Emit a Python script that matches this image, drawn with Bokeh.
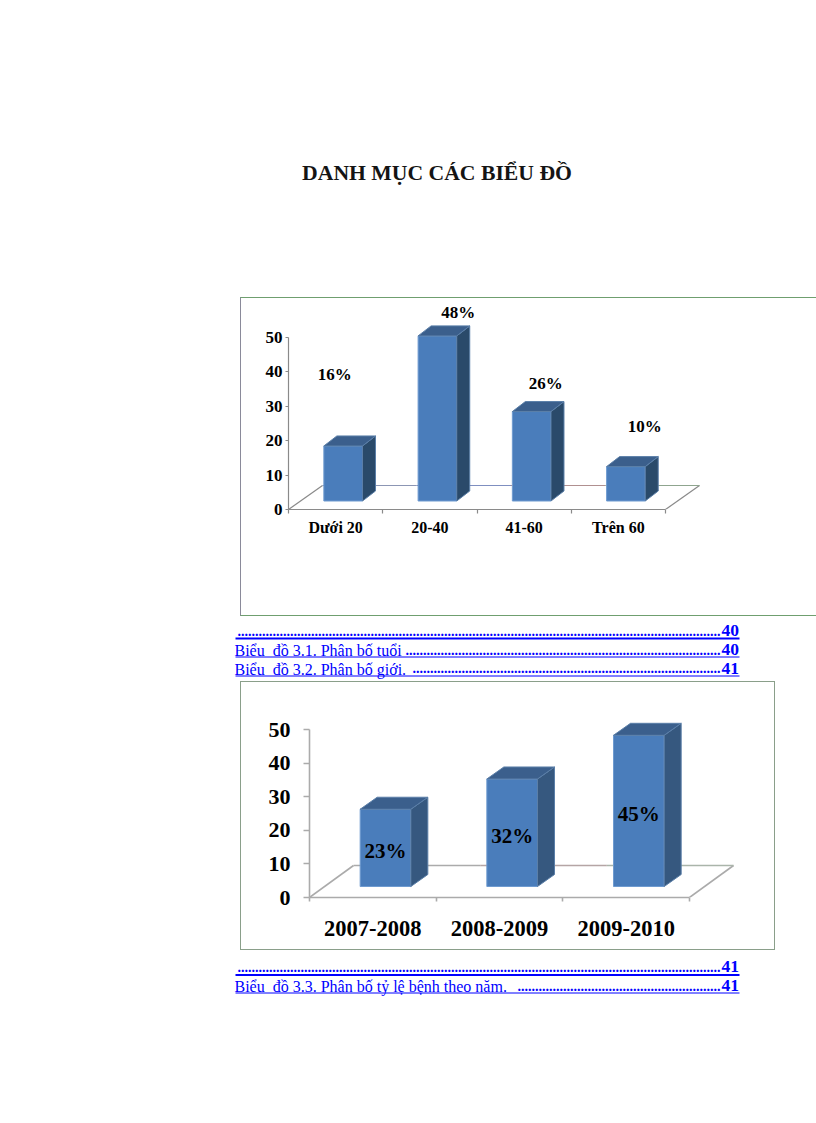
from bokeh.embed import file_html
from bokeh.resources import INLINE
from bokeh.plotting import figure
from bokeh.layouts import column, row
from bokeh.models import Range1d, FixedTicker, Spacer
from bokeh.core.properties import value

SERIF = "Liberation Serif"

title_text = "DANH MỤC CÁC BIỂU ĐỒ"

age_categories = ["Dưới 20", "20-40", "41-60", "Trên 60"]
age_values = [16, 48, 26, 10]
age_labels = ["16%", "48%", "26%", "10%"]

year_categories = ["2007-2008", "2008-2009", "2009-2010"]
year_values = [23, 32, 45]
year_labels = ["23%", "32%", "45%"]

y_ticks = [0, 10, 20, 30, 40, 50]

toc_first = [("", "40"), ("Biểu \u00a0đồ 3.1. Phân bố tuổi ", "40"), ("Biểu \u00a0đồ 3.2. Phân bố giới. ", "41")]
toc_second = [("", "41"), ("Biểu \u00a0đồ 3.3. Phân bố tỷ lệ bệnh theo năm. ", "41")]
leader_counts_first = [138, 90, 88]
leader_counts_second = [138, 58]

FRONT, TOP = "#4a7dbb", "#3b5f8c"


def chart(cats, vals, width, height, left, bottom, cat_px, unit_px, floor_dx, floor_dy,
          bar_shift, bar_w, depth_x, depth_y, base_px, tick_font, cat_font, standoff,
          tick_out, y_standoff, side, axis_color, axis_w, back_colors, border):
    n = len(cats)
    plot_w, plot_h = width - left, height - bottom
    p = figure(width=width, height=height, output_backend="svg", toolbar_location=None,
               x_range=Range1d(-0.5, -0.5 + plot_w / cat_px), y_range=Range1d(0, plot_h / unit_px),
               min_border_left=left, min_border_bottom=bottom, min_border_top=0, min_border_right=0)
    p.grid.visible = False
    p.outline_line_color = None
    p.styles = border

    ya = p.yaxis[0]
    ya.ticker = FixedTicker(ticks=y_ticks)
    ya.bounds = (0, 50)
    ya.major_tick_in, ya.major_tick_out = 0, tick_out
    ya.minor_tick_line_color = None
    ya.axis_line_color = ya.major_tick_line_color = axis_color
    ya.axis_line_width = ya.major_tick_line_width = axis_w
    ya.major_label_text_font = SERIF
    ya.major_label_text_font_style = "bold"
    ya.major_label_text_font_size = tick_font
    ya.major_label_text_color = "#000000"
    ya.major_label_standoff = y_standoff

    xa = p.xaxis[0]
    xa.ticker = FixedTicker(ticks=list(range(n)), minor_ticks=[i - 0.5 for i in range(n + 1)])
    xa.major_label_overrides = {i: c for i, c in enumerate(cats)}
    xa.bounds = (-0.5, n - 0.5)
    xa.major_tick_in = xa.major_tick_out = 0
    xa.minor_tick_in, xa.minor_tick_out = 0, 4
    xa.axis_line_color = xa.minor_tick_line_color = axis_color
    xa.axis_line_width = xa.minor_tick_line_width = axis_w
    xa.major_label_text_font = SERIF
    xa.major_label_text_font_style = "bold"
    xa.major_label_text_font_size = cat_font
    xa.major_label_text_color = "#000000"
    xa.major_label_standoff = standoff

    # floor of the 3-D chart
    fx, fy = floor_dx / cat_px, floor_dy / unit_px
    p.line([-0.5, -0.5 + fx], [0, fy], line_color=axis_color, line_width=axis_w)
    p.line([n - 0.5 + fx, n - 0.5], [fy, 0], line_color=axis_color, line_width=axis_w)
    for i, col in enumerate(back_colors):
        p.line([i - 0.5 + fx, i + 0.5 + fx], [fy, fy], line_color=col, line_width=axis_w)

    # bars: front face, side face, top face
    dx, dy = depth_x / cat_px, depth_y / unit_px
    base = base_px / unit_px
    for i, v in enumerate(vals):
        x0 = i + bar_shift - bar_w / 2
        x1 = x0 + bar_w
        y1 = base + v
        p.quad(left=x0, right=x1, bottom=base, top=y1, fill_color=FRONT, line_color="#6f9bd0", line_width=1)
        p.patch([x1, x1 + dx, x1 + dx, x1], [base, base + dy, y1 + dy, y1], fill_color=side, line_color="#5b7fa8", line_width=1)
        p.patch([x0, x0 + dx, x1 + dx, x1], [y1, y1 + dy, y1 + dy, y1], fill_color=TOP, line_color="#5b7fa8", line_width=1)
    return p, base


def add_label(p, x, y, label, size):
    p.text([x], [y], text=[label], text_font=value(SERIF), text_font_style="bold", text_font_size=size,
           text_color="#000000", text_align="center", text_baseline="middle")


def page_fig(top, bottom):
    p = figure(width=816, height=bottom - top, output_backend="svg", toolbar_location=None,
               x_range=Range1d(0, 816), y_range=Range1d(bottom, top),
               min_border=0, x_axis_location=None, y_axis_location=None)
    p.grid.visible = False
    p.outline_line_color = None
    return p


def toc(p, entries, counts, ys, rules):
    for (label, page), count, y in zip(entries, counts, ys):
        if label:
            p.text([234], [y], text=[label], text_font=value(SERIF), text_font_size="16px",
                   text_color="#0000ff", text_baseline="middle")
        p.text([720], [y - 1], text=["." * count], text_font=value(SERIF), text_font_style="bold",
               text_font_size="14px", text_color="#0000ff", text_align="right", text_baseline="middle")
        p.text([738.5], [y - 1], text=[page], text_font=value(SERIF), text_font_style="bold",
               text_font_size="17.5px", text_color="#0000ff", text_align="right", text_baseline="middle")
    for y, w in rules:
        p.line([235, 739], [y, y], line_color="#0000ff", line_width=w)


# header -----------------------------------------------------------------
head = page_fig(0, 297)
head.text([436.5], [172], text=[title_text], text_font=value(SERIF), text_font_style="bold",
          text_font_size="21.7px", text_color="#141414", text_align="center", text_baseline="middle")

# chart 1 ----------------------------------------------------------------
green1, grey1 = "1px solid #6f9f6f", "1px solid #8a8a9a"
c1, base1 = chart(age_categories, age_values, 576, 319, 47, 108, 94.25, 3.44, 34, 24,
                  0.08, 0.41, 13, 10, 8.5, "17px", "16px", 5, 3, 3, "#2a4a6a", "#8a8a8a", 1.2,
                  ["#8c96b4", "#7f8fc0", "#b09090", "#8fa58f"],
                  {"border-left": grey1, "border-top": green1, "border-bottom": green1, "box-sizing": "border-box"})
# hand-placed percentage labels of the original
age_label_pos = [(-0.01, 39.3), (1.30, 57.4), (2.23, 36.5), (3.28, 24.0)]
for lab, (x, y) in zip(age_labels, age_label_pos):
    add_label(c1, x, y, lab, "17px")

# toc 1 ------------------------------------------------------------------
t1 = page_fig(616, 681)
toc(t1, toc_first, leader_counts_first, [631, 650, 668.5], [(638, 2), (656.5, 1), (675.5, 1)])

# chart 2 ----------------------------------------------------------------
edge2 = "1px solid #8a9f8a"
c2, base2 = chart(year_categories, year_values, 535, 269, 68, 54, 126.67, 3.36, 44, 32,
                  0.10, 0.40, 17, 12, 11, "22px", "22.5px", 19, 6, 13, "#36587f", "#ababab", 1.6,
                  ["#ababab", "#b5a5a5", "#aab5aa"],
                  {"border": edge2, "box-sizing": "border-box"})
for i, (lab, v) in enumerate(zip(year_labels, year_values)):
    add_label(c2, i + 0.10, base2 + v / 2 - 1.0, lab, "21px")

# toc 2 ------------------------------------------------------------------
t2 = page_fig(950, 1010)
toc(t2, toc_second, leader_counts_second, [967, 986], [(974.5, 2), (992.5, 1)])

page = column(head, row(Spacer(width=240, height=319), c1), t1,
              row(Spacer(width=240, height=269), c2), t2, spacing=0)

open("out.html", "w").write(file_html(page, INLINE))
